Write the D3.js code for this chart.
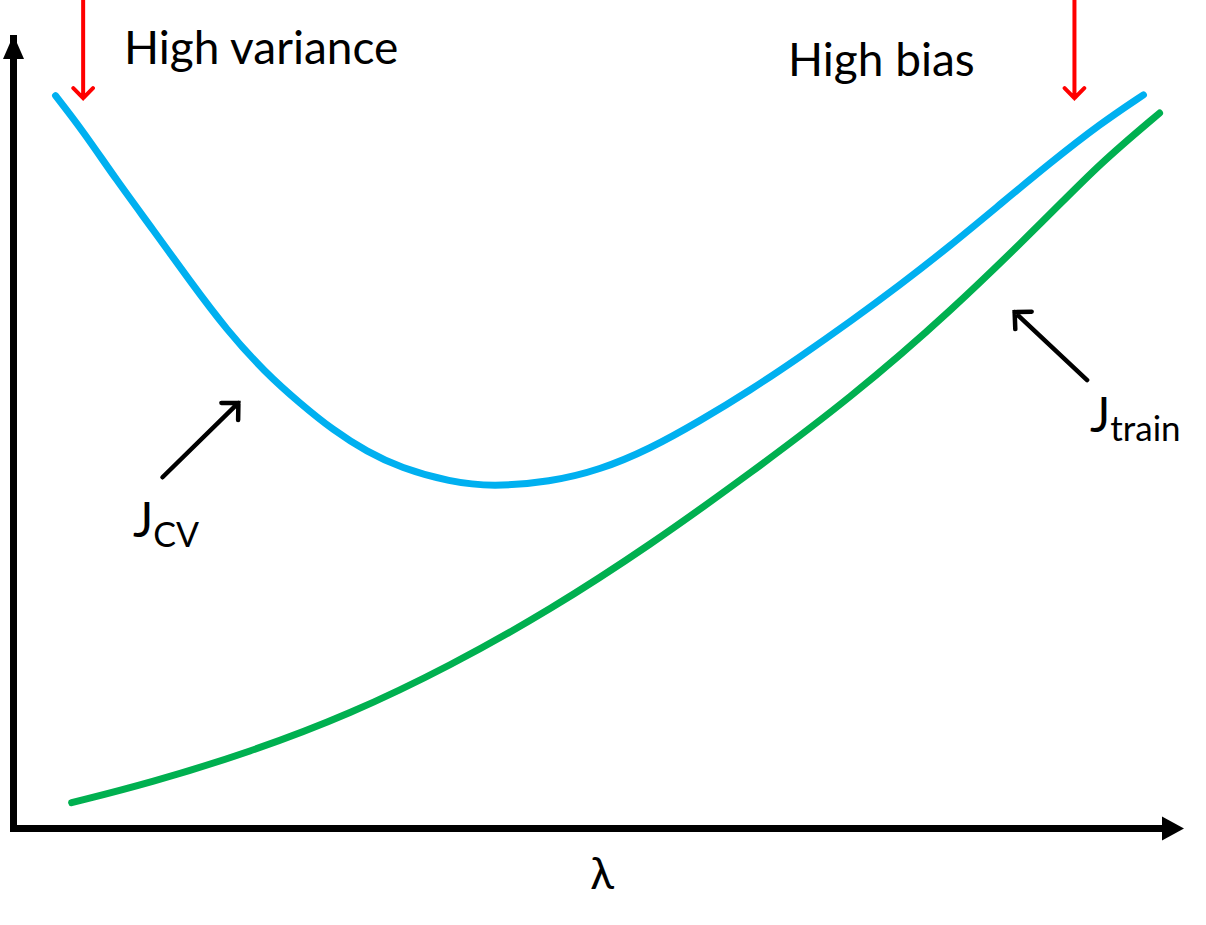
<!DOCTYPE html>
<html>
<head>
<meta charset="utf-8">
<script src="https://cdn.jsdelivr.net/npm/d3@7"></script>
<style>
  html, body { margin: 0; padding: 0; background: #fff; }
  svg { display: block; }
  text { font-family: Lato, "Open Sans", sans-serif; fill: #000; }
</style>
</head>
<body>
<svg id="chart" width="1206" height="925"></svg>
<script>
// ---- data (λ and J in arbitrary units) ----
const lambdaCV = [0.37, 0.61, 0.90, 1.22, 1.54, 1.86, 2.19, 2.50, 2.78, 3.08, 3.37, 3.80, 4.17, 4.67, 5.10, 5.54, 5.97, 6.41, 6.84, 7.28, 7.71, 8.15, 8.58, 9.02, 9.45, 9.83];
const jCV      = [9.27, 8.82, 8.20, 7.57, 6.92, 6.30, 5.77, 5.37, 5.04, 4.76, 4.56, 4.38, 4.32, 4.38, 4.53, 4.80, 5.15, 5.54, 5.96, 6.41, 6.87, 7.37, 7.89, 8.42, 8.91, 9.28];

const lambdaTrain = [0.51, 1.19, 2.06, 2.93, 3.80, 4.67, 5.54, 6.41, 7.28, 8.15, 9.02, 9.45, 9.97];
const jTrain      = [0.32, 0.57, 0.96, 1.44, 2.05, 2.76, 3.58, 4.49, 5.44, 6.53, 7.77, 8.41, 9.05];

// annotation arrows: [λ tail, J tail, λ tip, J tip]
const regimeArrows = [[0.61, 10.6, 0.61, 9.24], [9.23, 10.6, 9.23, 9.24]];
const labelArrows  = [[1.30, 4.44, 1.96, 5.38], [9.34, 5.67, 8.71, 6.53]];

const regimeLabels = ["High variance", "High bias"];
const xAxisLabel = "λ";

// ---- scales ----
const x = d3.scaleLinear().domain([0, 10]).range([13, 1163]);
const y = d3.scaleLinear().domain([0, 10]).range([828, 38]);

const svg = d3.select("#chart");

// axes (no ticks)
svg.append("g").attr("transform", `translate(0,${y(0)})`)
  .call(d3.axisBottom(x).tickValues([]).tickSizeOuter(0));
svg.append("g").attr("transform", `translate(${x(0)},0)`)
  .call(d3.axisLeft(y).tickValues([]).tickSizeOuter(0));
svg.selectAll(".domain").attr("stroke", "#000").attr("stroke-width", 7).attr("stroke-linecap", "square");

// axis arrowheads
const x1 = x(10), y0 = y(0);
svg.append("path").attr("d", `M${x1 - 1},${y0 - 11.5}L${x1 + 21},${y0 + 0.5}L${x1 - 1},${y0 + 12.5}Z`).attr("fill", "#000");
const xa = x(0), yTop = y(10);
svg.append("path").attr("d", `M${xa - 10},${yTop + 21}L${xa + 0.5},${yTop - 3}L${xa + 11},${yTop + 21}Z`).attr("fill", "#000");

// curves
const line = d3.line().x(d => x(d[0])).y(d => y(d[1])).curve(d3.curveBasis);
svg.append("path")
  .attr("d", line(lambdaCV.map((l, i) => [l, jCV[i]])))
  .attr("fill", "none").attr("stroke", "#00B0F0").attr("stroke-width", 7).attr("stroke-linecap", "round");
svg.append("path")
  .attr("d", line(lambdaTrain.map((l, i) => [l, jTrain[i]])))
  .attr("fill", "none").attr("stroke", "#00B050").attr("stroke-width", 7).attr("stroke-linecap", "round");

// open-head arrows
function arrow(a, color, width, head) {
  const tx = x(a[0]), ty = y(a[1]), hx = x(a[2]), hy = y(a[3]);
  const ang = Math.atan2(hy - ty, hx - tx);
  const s = 0.78;
  const p1 = [hx - head * Math.cos(ang - s), hy - head * Math.sin(ang - s)];
  const p2 = [hx - head * Math.cos(ang + s), hy - head * Math.sin(ang + s)];
  svg.append("path")
    .attr("d", `M${tx},${ty}L${hx},${hy}M${p1[0]},${p1[1]}L${hx},${hy}L${p2[0]},${p2[1]}`)
    .attr("fill", "none").attr("stroke", color).attr("stroke-width", width)
    .attr("stroke-linecap", "round").attr("stroke-linejoin", "miter");
}
regimeArrows.forEach(a => arrow(a, "#FF0000", 4, 14));
labelArrows.forEach(a => arrow(a, "#000", 4.5, 17));

// text labels
svg.append("text").attr("x", 124).attr("y", 64).attr("font-size", 46).text(regimeLabels[0]);
svg.append("text").attr("x", 788).attr("y", 76).attr("font-size", 46).text(regimeLabels[1]);

const jcv = svg.append("text").attr("x", 133).attr("y", 537).attr("font-size", 48);
jcv.append("tspan").text("J");
jcv.append("tspan").attr("font-size", 34).attr("dy", 10).text("CV");

const jtr = svg.append("text").attr("x", 1090).attr("y", 432).attr("font-size", 48);
jtr.append("tspan").text("J");
jtr.append("tspan").attr("font-size", 35).attr("dy", 9).text("train");

svg.append("text").attr("x", 602).attr("y", 889).attr("font-size", 44).attr("text-anchor", "middle").text(xAxisLabel);
</script>
</body>
</html>
